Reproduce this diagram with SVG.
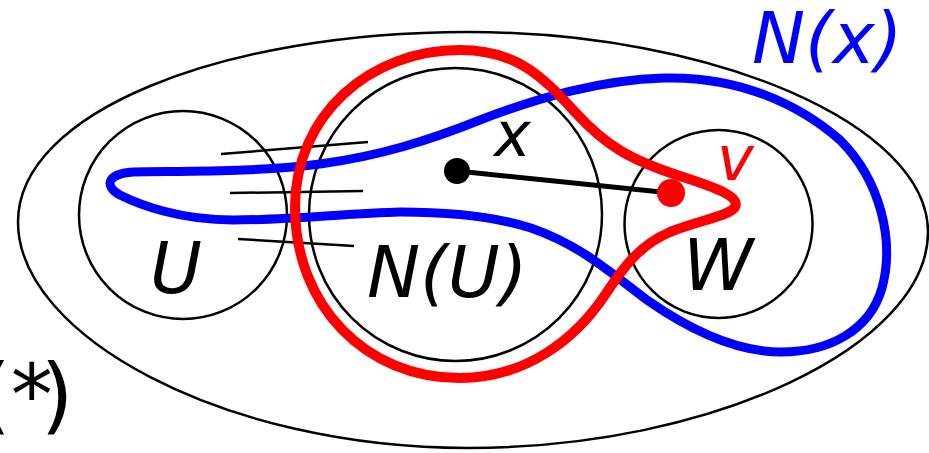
<svg xmlns="http://www.w3.org/2000/svg" width="929" height="453" viewBox="0 0 929 453">
<style>
.thin{fill:none;stroke:#000;stroke-width:2.5}
.lbl{font-family:"DejaVu Sans",sans-serif;font-style:italic;font-size:71px;fill:#000}
.sm{font-size:62px}
</style>
<rect width="929" height="453" fill="#fff"/>
<g id="outer">
<path class="thin" d="M18,222 C18,112 222,32 468,32 C714,32 928,125 928,232 C928,345 714,448 468,448 C222,448 18,335 18,222 Z"/>
</g>
<g id="U">
<circle class="thin" cx="183" cy="215" r="104"/>
<text class="lbl" x="150" y="293">U</text>
</g>
<g id="NU">
<circle class="thin" cx="455.5" cy="214.5" r="146.5"/>
<text class="lbl" x="367" y="297">N(U)</text>
</g>
<g id="W">
<circle class="thin" cx="718.5" cy="224" r="94"/>
<text class="lbl" x="683" y="290">W</text>
</g>
<g id="connectors">
<line x1="221" y1="154" x2="368" y2="142" stroke="#000" stroke-width="2.5"/>
<line x1="230" y1="193" x2="363" y2="191" stroke="#000" stroke-width="2.5"/>
<line x1="238" y1="239" x2="354" y2="246" stroke="#000" stroke-width="2.5"/>
</g>
<g id="Nx">
<path fill="none" stroke="#0000ff" stroke-width="9" d="M133,172 C190,171 260,172 320,164 C380,156 430,140 480,120 C540,97 600,80 664,78 C740,76 800,105 840,140 C880,180 895,240 882,288 C870,330 830,352 781,352 C735,352 690,330 647,300 C610,272 580,245 531,228 C490,215 440,212 400,212 C350,213 290,220 233,220 C180,220 140,205 120,195 C105,187 105,174 133,172 Z"/>
<text class="lbl" x="752" y="63" style="fill:#0000ff">N(x)</text>
</g>
<g id="red">
<path fill="none" stroke="#ff0000" stroke-width="10" d="M295,207 C295,115 370,50 460,50 C520,50 545,80 575,112 C605,145 630,160 680,176 C720,189 740,197 735,207 C730,216 700,220 670,232 C640,245 625,265 605,295 C575,340 525,378 460,378 C365,378 295,305 295,207 Z"/>
</g>
<g id="edge">
<line x1="457" y1="171" x2="671" y2="193" stroke="#000" stroke-width="5"/>
</g>
<g id="x">
<circle cx="457" cy="171" r="13" fill="#000"/>
<text class="lbl sm" x="494" y="156">x</text>
</g>
<g id="v">
<circle cx="671" cy="193" r="14" fill="#ff0000"/>
<text class="lbl sm" x="717" y="180" style="fill:#ff0000">v</text>
</g>
<g id="star">
<text x="-22" y="424" style="font-family:'DejaVu Sans',sans-serif;font-size:84px;fill:#000">(*<tspan dx="-12">)</tspan></text>
</g>
</svg>
